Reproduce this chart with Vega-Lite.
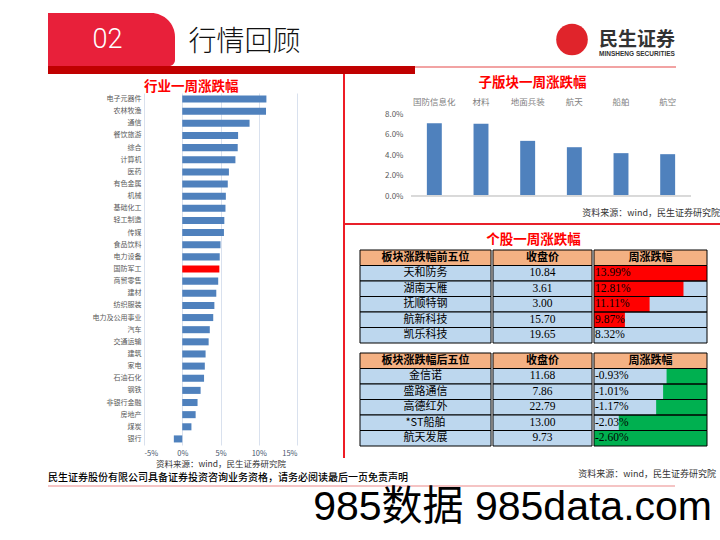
{
  "$schema": "https://vega.github.io/schema/vega-lite/v6.json",
  "background": "white",
  "padding": {"left": 48, "top": 13, "right": 0, "bottom": 0},
  "config": {
    "view": {"stroke": null},
    "font": "Noto Sans CJK SC",
    "title": {"font": "Noto Sans CJK SC"},
    "axis": {"labelFont": "Noto Sans CJK SC", "titleFont": "Noto Sans CJK SC", "labelOverlap": false}
  },
  "datasets": {
    "tab": [{"label": "02"}],
    "heading": [{"label": "行情回顾"}],
    "logo": [{"name": "民生证券", "sub": "MINSHENG SECURITIES"}],
    "industry": [
      {"industry": "电子元器件", "chg": 0.110},
      {"industry": "农林牧渔", "chg": 0.1095},
      {"industry": "通信", "chg": 0.088},
      {"industry": "餐饮旅游", "chg": 0.073},
      {"industry": "综合", "chg": 0.0725},
      {"industry": "计算机", "chg": 0.0695},
      {"industry": "医药", "chg": 0.061},
      {"industry": "有色金属", "chg": 0.0595},
      {"industry": "机械", "chg": 0.057},
      {"industry": "基础化工", "chg": 0.0565},
      {"industry": "轻工制造", "chg": 0.055},
      {"industry": "传媒", "chg": 0.0545},
      {"industry": "食品饮料", "chg": 0.050},
      {"industry": "电力设备", "chg": 0.049},
      {"industry": "国防军工", "chg": 0.0485},
      {"industry": "商贸零售", "chg": 0.047},
      {"industry": "建材", "chg": 0.0445},
      {"industry": "纺织服装", "chg": 0.042},
      {"industry": "电力及公用事业", "chg": 0.0405},
      {"industry": "汽车", "chg": 0.036},
      {"industry": "交通运输", "chg": 0.0345},
      {"industry": "建筑", "chg": 0.0305},
      {"industry": "家电", "chg": 0.0295},
      {"industry": "石油石化", "chg": 0.0285},
      {"industry": "钢铁", "chg": 0.024},
      {"industry": "非银行金融", "chg": 0.020},
      {"industry": "房地产", "chg": 0.0175},
      {"industry": "煤炭", "chg": 0.012},
      {"industry": "银行", "chg": -0.011}
    ],
    "sector": [
      {"sector": "国防信息化", "chg": 0.0710},
      {"sector": "材料", "chg": 0.0705},
      {"sector": "地面兵装", "chg": 0.0538},
      {"sector": "航天", "chg": 0.0476},
      {"sector": "船舶", "chg": 0.0418},
      {"sector": "航空", "chg": 0.0408}
    ],
    "top5": [
      {"r": "h", "name": "板块涨跌幅前五位", "price": "收盘价", "pct": "周涨跌幅"},
      {"r": "1", "name": "天和防务", "price": "10.84", "pct": "13.99%", "v": 13.99},
      {"r": "2", "name": "湖南天雁", "price": "3.61", "pct": "12.81%", "v": 12.81},
      {"r": "3", "name": "抚顺特钢", "price": "3.00", "pct": "11.11%", "v": 11.11},
      {"r": "4", "name": "航新科技", "price": "15.70", "pct": "9.87%", "v": 9.87},
      {"r": "5", "name": "凯乐科技", "price": "19.65", "pct": "8.32%", "v": 8.32}
    ],
    "bottom5": [
      {"r": "h", "name": "板块涨跌幅后五位", "price": "收盘价", "pct": "周涨跌幅"},
      {"r": "1", "name": "金信诺", "price": "11.68", "pct": "-0.93%", "v": -0.93},
      {"r": "2", "name": "盛路通信", "price": "7.86", "pct": "-1.01%", "v": -1.01},
      {"r": "3", "name": "高德红外", "price": "22.79", "pct": "-1.17%", "v": -1.17},
      {"r": "4", "name": "*ST船舶", "price": "13.00", "pct": "-2.03%", "v": -2.03},
      {"r": "5", "name": "航天发展", "price": "9.73", "pct": "-2.60%", "v": -2.60}
    ]
  },
  "columns": 1,
  "spacing": 0,
  "concat": [
    {
      "columns": 5, "spacing": 0,
      "concat": [
        {
          "width": 127, "height": 53,
          "data": {"name": "tab"},
          "layer": [
            {"mark": {"type": "rect", "color": "#e8203a", "cornerRadiusTopRight": 24, "cornerRadiusBottomRight": 6}, "encoding": {}},
            {"mark": {"type": "text", "color": "white", "fontSize": 27, "font": "Liberation Sans Narrow, Roboto", "fontWeight": 300, "dx": -4}, "encoding": {"text": {"field": "label"}}}
          ]
        },
        {
          "width": 139, "height": 53,
          "data": {"name": "heading"},
          "mark": {"type": "text", "color": "#111111", "fontSize": 28, "fontWeight": 300, "dy": 3},
          "encoding": {"text": {"field": "label"}}
        },
        {"width": 240, "height": 53, "data": {"values": []}, "mark": "point"},
        {
          "width": 36, "height": 53,
          "data": {"name": "logo"},
          "mark": {"type": "point", "filled": true, "shape": "circle", "size": 1000, "color": "#e0242b", "opacity": 1},
          "encoding": {}
        },
        {
          "width": 94, "height": 53,
          "data": {"name": "logo"},
          "layer": [
            {"mark": {"type": "text", "fontSize": 19, "fontWeight": "bold", "color": "#333333"}, "encoding": {"text": {"field": "name"}}},
            {"mark": {"type": "text", "fontSize": 6.5, "fontWeight": "bold", "color": "#333333", "dy": 14, "font": "Liberation Sans"}, "encoding": {"text": {"field": "sub"}}}
          ]
        }
      ]
    },
    {
      "columns": 2, "spacing": 0,
      "concat": [
        {"width": 367, "height": 8, "view": {"fill": "#c00000"}, "data": {"values": []}, "mark": "point"},
        {"width": 261, "height": 2, "view": {"fill": "#f2a3a3"}, "data": {"values": []}, "mark": "point"}
      ]
    },
    {
      "columns": 3, "spacing": 0,
      "concat": [
        {
          "columns": 1, "spacing": 0,
          "concat": [
            {"width": 295, "height": 5, "data": {"values": []}, "mark": "point"},
            {
              "columns": 2, "spacing": 0,
              "concat": [
                {"width": 0.01, "height": 0.01, "data": {"values": []}, "mark": "point"},
                {
                  "width": 153, "height": 352,
                  "title": {"text": "行业一周涨跌幅", "anchor": "start", "frame": "group", "color": "#ff0000", "fontSize": 13.5, "fontWeight": "bold", "offset": 0},
                  "data": {"name": "industry"},
                  "mark": {"type": "bar"},
                  "encoding": {
                    "y": {"field": "industry", "type": "nominal", "sort": null,
                          "scale": {"paddingInner": 0.42, "paddingOuter": 0.21},
                          "axis": {"title": null, "ticks": false, "domain": false, "labelFontSize": 7, "labelColor": "#595959", "labelPadding": 3, "minExtent": 95}},
                    "x": {"field": "chg", "type": "quantitative",
                          "scale": {"domain": [-0.05, 0.15], "nice": false},
                          "axis": {"values": [-0.05, 0, 0.05, 0.1, 0.15], "format": ".0%", "labelExpr": "replace(datum.label, '−', '-')",
                                   "grid": true, "gridColor": "#d9e1ee", "domain": false, "ticks": false, "labelOverlap": false,
                                   "labelFontSize": 7.5, "labelColor": "#44546a", "labelPadding": 4,
                                   "title": "资料来源：wind，民生证券研究院", "titleFontSize": 8.5, "titleFontWeight": "normal", "titleColor": "#333333", "titlePadding": 3}},
                    "color": {"condition": {"test": "datum.industry === '国防军工'", "value": "#ff0000"}, "value": "#4f81bd"}
                  }
                }
              ]
            }
          ]
        },
        {"width": 2, "height": 384, "view": {"fill": "#ee1c25"}, "data": {"values": []}, "mark": "point"},
        {
          "columns": 1, "spacing": 0,
          "concat": [
            {"width": 0.01, "height": 0.01, "data": {"values": []}, "mark": "point"},
            {
              "columns": 1, "spacing": 8,
              "concat": [
                {
                  "title": {"text": "子版块一周涨跌幅", "color": "#ff0000", "fontSize": 13.5, "fontWeight": "bold", "offset": 8, "anchor": "middle"},
                  "columns": 1, "spacing": 9,
                  "concat": [
                    {
                      "columns": 2, "spacing": 0,
                      "concat": [
                        {"width": 0.01, "height": 0.01, "data": {"values": []}, "mark": "point"},
                        {
                          "width": 280, "height": 82,
                          "data": {"name": "sector"},
                          "resolve": {"axis": {"y": "independent", "x": "independent"}},
                          "layer": [
                            {
                              "mark": {"type": "bar", "color": "#4f81bd"},
                              "encoding": {
                                "x": {"field": "sector", "type": "nominal", "sort": null,
                                      "scale": {"paddingInner": 0.68, "paddingOuter": 0.34},
                                      "axis": {"orient": "top", "title": null, "labelAngle": 0, "ticks": false, "domain": false, "labelPadding": 8, "labelFontSize": 8.5, "labelColor": "#7f7f7f"}},
                                "y": {"field": "chg", "type": "quantitative",
                                      "scale": {"domain": [0, 0.08], "nice": false},
                                      "axis": {"title": null, "values": [0, 0.02, 0.04, 0.06, 0.08], "tickCount": 5, "format": ".1%", "grid": false, "domain": false, "ticks": false, "labelOverlap": false, "labelPadding": 8, "labelFontSize": 8, "labelColor": "#595959", "minExtent": 65}}
                              }
                            },
                            {"mark": {"type": "rule", "color": "#d9d9d9", "strokeWidth": 1}, "encoding": {"y": {"datum": 0, "type": "quantitative", "axis": null}}}
                          ]
                        }
                      ]
                    },
                    {
                      "width": 375, "height": 2, "view": {"fill": "#e8202a"},
                      "data": {"values": []}, "mark": "point",
                      "title": {"text": "资料来源：wind，民生证券研究院", "anchor": "end", "fontSize": 9, "fontWeight": "normal", "color": "#333333", "offset": 5}
                    }
                  ]
                },
                {
                  "columns": 2, "spacing": 0,
                  "concat": [
                    {"width": 14, "height": 10, "data": {"values": []}, "mark": "point"},
                    {
                      "title": {"text": "个股一周涨跌幅", "color": "#ff0000", "fontSize": 13.5, "fontWeight": "bold", "offset": 3, "anchor": "middle"},
                      "columns": 3, "spacing": 0,
                      "concat": [
                        {
                          "width": 131, "height": 93,
                          "data": {"name": "top5"},
                          "encoding": {"y": {"field": "r", "type": "nominal", "sort": null, "axis": null, "scale": {"paddingInner": 0, "paddingOuter": 0}}},
                          "layer": [
                            {"mark": {"type": "rect", "stroke": "#000000", "strokeWidth": 1}, "encoding": {"color": {"condition": {"test": "datum.r === 'h'", "value": "#f4b183"}, "value": "#bdd7ee"}}},
                            {"transform": [{"filter": "datum.r === 'h'"}], "mark": {"type": "text", "fontSize": 11, "fontWeight": "bold", "color": "#000000"}, "encoding": {"text": {"field": "name"}}},
                            {"transform": [{"filter": "datum.r !== 'h'"}], "mark": {"type": "text", "fontSize": 11, "color": "#000000"}, "encoding": {"text": {"field": "name"}}}
                          ]
                        },
                        {
                          "width": 99, "height": 93,
                          "data": {"name": "top5"},
                          "encoding": {"y": {"field": "r", "type": "nominal", "sort": null, "axis": null, "scale": {"paddingInner": 0, "paddingOuter": 0}}},
                          "layer": [
                            {"mark": {"type": "rect", "stroke": "#000000", "strokeWidth": 1}, "encoding": {"color": {"condition": {"test": "datum.r === 'h'", "value": "#f4b183"}, "value": "#bdd7ee"}}},
                            {"transform": [{"filter": "datum.r === 'h'"}], "mark": {"type": "text", "fontSize": 11, "fontWeight": "bold", "color": "#000000"}, "encoding": {"text": {"field": "price"}}},
                            {"transform": [{"filter": "datum.r !== 'h'"}], "mark": {"type": "text", "fontSize": 11.5, "font": "Liberation Serif", "color": "#000000"}, "encoding": {"text": {"field": "price"}}}
                          ]
                        },
                        {
                          "width": 113, "height": 93,
                          "data": {"name": "top5"},
                          "encoding": {"y": {"field": "r", "type": "nominal", "sort": null, "axis": null, "scale": {"paddingInner": 0, "paddingOuter": 0}}},
                          "layer": [
                            {"mark": {"type": "rect"}, "encoding": {"color": {"condition": {"test": "datum.r === 'h'", "value": "#f4b183"}, "value": "#bdd7ee"}}},
                            {"transform": [{"filter": "datum.r !== 'h'"}], "mark": {"type": "rect", "color": "#ff0000"},
                             "encoding": {"x": {"field": "v", "type": "quantitative", "scale": {"domain": [8.32, 13.99], "nice": false, "zero": false}, "axis": null}, "x2": {"datum": 8.32}}},
                            {"mark": {"type": "rect", "fillOpacity": 0, "stroke": "#000000", "strokeWidth": 1}, "encoding": {}},
                            {"transform": [{"filter": "datum.r === 'h'"}], "mark": {"type": "text", "fontSize": 11, "fontWeight": "bold", "color": "#000000"}, "encoding": {"text": {"field": "pct"}}},
                            {"transform": [{"filter": "datum.r !== 'h'"}], "mark": {"type": "text", "fontSize": 11.5, "font": "Liberation Serif", "color": "#000000", "align": "left", "dx": 1},
                             "encoding": {"text": {"field": "pct"}, "x": {"datum": 8.32}}}
                          ]
                        }
                      ]
                    }
                  ]
                },
                {
                  "columns": 4, "spacing": 0,
                  "concat": [
                    {"width": 14, "height": 10, "data": {"values": []}, "mark": "point"},
                    {
                      "width": 131, "height": 93,
                      "data": {"name": "bottom5"},
                      "encoding": {"y": {"field": "r", "type": "nominal", "sort": null, "axis": null, "scale": {"paddingInner": 0, "paddingOuter": 0}}},
                      "layer": [
                        {"mark": {"type": "rect", "stroke": "#000000", "strokeWidth": 1}, "encoding": {"color": {"condition": {"test": "datum.r === 'h'", "value": "#f4b183"}, "value": "#bdd7ee"}}},
                        {"transform": [{"filter": "datum.r === 'h'"}], "mark": {"type": "text", "fontSize": 11, "fontWeight": "bold", "color": "#000000"}, "encoding": {"text": {"field": "name"}}},
                        {"transform": [{"filter": "datum.r !== 'h'"}], "mark": {"type": "text", "fontSize": 11, "color": "#000000"}, "encoding": {"text": {"field": "name"}}}
                      ]
                    },
                    {
                      "width": 99, "height": 93,
                      "data": {"name": "bottom5"},
                      "encoding": {"y": {"field": "r", "type": "nominal", "sort": null, "axis": null, "scale": {"paddingInner": 0, "paddingOuter": 0}}},
                      "layer": [
                        {"mark": {"type": "rect", "stroke": "#000000", "strokeWidth": 1}, "encoding": {"color": {"condition": {"test": "datum.r === 'h'", "value": "#f4b183"}, "value": "#bdd7ee"}}},
                        {"transform": [{"filter": "datum.r === 'h'"}], "mark": {"type": "text", "fontSize": 11, "fontWeight": "bold", "color": "#000000"}, "encoding": {"text": {"field": "price"}}},
                        {"transform": [{"filter": "datum.r !== 'h'"}], "mark": {"type": "text", "fontSize": 11.5, "font": "Liberation Serif", "color": "#000000"}, "encoding": {"text": {"field": "price"}}}
                      ]
                    },
                    {
                      "width": 113, "height": 93,
                      "data": {"name": "bottom5"},
                      "encoding": {"y": {"field": "r", "type": "nominal", "sort": null, "axis": null, "scale": {"paddingInner": 0, "paddingOuter": 0}}},
                      "layer": [
                        {"mark": {"type": "rect"}, "encoding": {"color": {"condition": {"test": "datum.r === 'h'", "value": "#f4b183"}, "value": "#bdd7ee"}}},
                        {"transform": [{"filter": "datum.r !== 'h'"}], "mark": {"type": "rect", "color": "#00b050"},
                         "encoding": {"x": {"field": "v", "type": "quantitative", "scale": {"domain": [-2.6, 0], "nice": false, "zero": false}, "axis": null}, "x2": {"datum": 0}}},
                        {"mark": {"type": "rect", "fillOpacity": 0, "stroke": "#000000", "strokeWidth": 1}, "encoding": {}},
                        {"transform": [{"filter": "datum.r === 'h'"}], "mark": {"type": "text", "fontSize": 11, "fontWeight": "bold", "color": "#000000"}, "encoding": {"text": {"field": "pct"}}},
                        {"transform": [{"filter": "datum.r !== 'h'"}], "mark": {"type": "text", "fontSize": 11.5, "font": "Liberation Serif", "color": "#000000", "align": "left", "dx": 1},
                         "encoding": {"text": {"field": "pct"}, "x": {"datum": -2.6}}}
                      ]
                    }
                  ]
                }
              ]
            }
          ]
        }
      ]
    },
    {"width": 0.01, "height": 2, "data": {"values": []}, "mark": "point"},
    {
      "columns": 2, "spacing": 0, "bounds": "flush",
      "concat": [
        {"width": 627, "height": 2, "view": {"fill": "#f5c4c4"}, "data": {"values": []}, "mark": "point",
         "title": {"text": "民生证券股份有限公司具备证券投资咨询业务资格，请务必阅读最后一页免责声明", "anchor": "start", "fontSize": 10, "fontWeight": 500, "color": "#000000", "offset": 2}},
        {"width": 41, "height": 2, "data": {"values": []}, "mark": "point",
         "title": {"text": "资料来源：wind，民生证券研究院", "anchor": "end", "fontSize": 9, "fontWeight": "normal", "color": "#333333", "offset": 6}}
      ]
    },
    {
      "width": 664, "height": 1, "data": {"values": []}, "mark": "point",
      "title": {"text": "985数据 985data.com", "anchor": "end", "fontSize": 41, "font": "Liberation Sans, Noto Sans CJK SC", "fontWeight": "normal", "color": "#000000", "offset": 0}
    }
  ]
}
